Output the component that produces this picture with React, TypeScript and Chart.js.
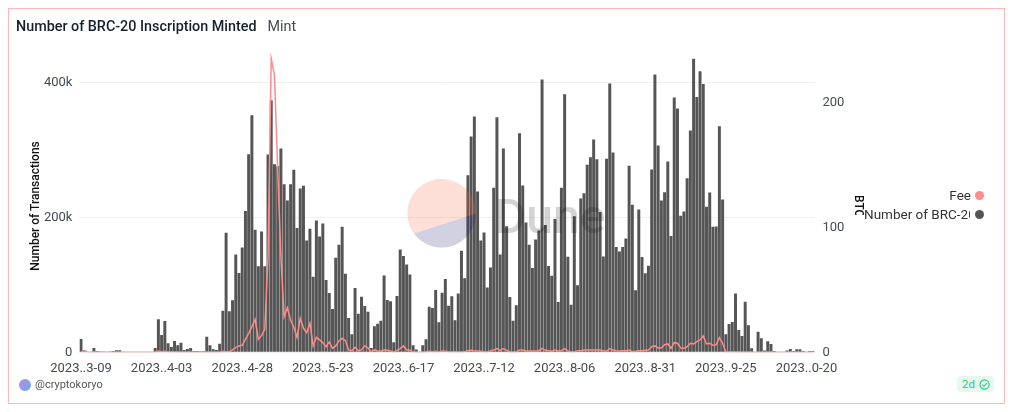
import React, { useEffect, useRef } from "react";
import { Chart, registerables } from "chart.js";

Chart.register(...registerables);

const START_MONTH_DAYS: [number, number][] = [[3, 31], [4, 30], [5, 31], [6, 30], [7, 31], [8, 31], [9, 30], [10, 31]];
const categories: string[] = [];
{
  let first = 9;
  for (const [m, len] of START_MONTH_DAYS) {
    for (let d = first; d <= len && categories.length < 228; d++) {
      categories.push(`2023..${m % 10}-${String(d).padStart(2, "0")}`);
    }
    first = 1;
  }
}

const leftTicks = [0, 200000, 400000];
const rightTicks = [0, 100, 200];

const minted = [
  19800, 3000, 0, 0, 6400, 2000, 500, 300, 0, 300,
  2000, 3000, 3000, 0, 0, 0, 0, 0, 0, 0,
  0, 0, 0, 6400, 48900, 25700, 46400, 13300, 7900, 16800,
  10400, 14300, 3500, 4900, 6400, 2000, 2000, 1500, 1500, 23200,
  10400, 4400, 3500, 12800, 61700, 177300, 60800, 77100, 145200, 117600,
  155600, 209500, 293900, 351700, 181800, 127500, 179300, 127500, 293400, 374000,
  279100, 276100, 302300, 249500, 225300, 249500, 270700, 184300, 243000, 247000,
  166000, 183300, 112100, 195600, 171900, 191200, 107200, 87900, 64200, 140300,
  159600, 186200, 116600, 50900, 26700, 95300, 57300, 82500, 68700, 60300,
  6400, 38500, 42500, 46900, 114100, 77600, 75600, 14800, 83500, 152600,
  142800, 130400, 115600, 10400, 4000, 0, 10400, 19300, 67700, 65700,
  92400, 44500, 88400, 108700, 69200, 83000, 47400, 87400, 150700, 109700,
  262800, 320100, 349800, 238600, 166000, 177800, 96300, 126000, 244000, 348800,
  145200, 302300, 187200, 82000, 46900, 69700, 325100, 247500, 192700, 159600,
  125000, 167500, 180800, 404600, 188700, 127900, 113600, 197600, 74600, 244000,
  382900, 141800, 70600, 202000, 99300, 228200, 236100, 278100, 289500, 315700,
  286500, 208000, 142300, 287000, 398700, 296400, 156100, 149700, 156100, 168900,
  276600, 218800, 91900, 211900, 141300, 117100, 128400, 271200, 412000, 306800,
  225300, 237600, 283100, 172400, 377900, 361600, 202500, 209000, 258400, 329000,
  435700, 378900, 416900, 398200, 215900, 237100, 186200, 186700, 335400, 226700,
  26700, 42000, 45000, 87400, 33100, 24200, 75100, 40000, 5900, 0,
  30600, 20700, 2500, 16300, 12400, 2000, 0, 0, 0, 2500,
  4900, 2000, 4400, 4400, 2000, 0, 2000, 2000,
];

const fee = [
  0.5, 0.8, 0.3, 0.1, 0.1, 0.1, 0.1, 0.1, 0.1, 0.1,
  0.1, 0.1, 0.1, 0.1, 0.1, 0.1, 0.1, 0.1, 0.1, 0.1,
  0.1, 0.1, 0.1, 0.3, 1.1, 0.5, 0.8, 0.3, 0.3, 0.2,
  0.2, 0.1, 0.1, 0.1, 0.1, 0.1, 0.1, 0.1, 0.1, 0.1,
  0.1, 0.1, 0.1, 0.1, 0.8, 0.5, 0.5, 1.9, 4, 5.1,
  5.6, 10.4, 15.2, 20.5, 26.4, 10.4, 13.3, 18.4, 76.5, 235,
  222, 146, 76.5, 28.5, 35.7, 25.9, 20, 12, 27.2, 19.2,
  15.7, 23.2, 5.1, 12, 9.9, 7.7, 4.5, 8.3, 3.2, 5.1,
  9.1, 11.2, 9.3, 1.9, 1.3, 4, 1.3, 1.9, 5.3, 3.5,
  0.5, 1.9, 1.1, 0.8, 1.9, 1.6, 1.1, 0, 1.6, 2.9,
  5.1, 1.9, 1.9, 0.3, 0, 0, 0, 0.5, 0.8, 0.5,
  0.8, 0.3, 1.1, 0.8, 0.5, 0.3, 0.5, 0.3, 0.3, 0.5,
  1.3, 1.6, 1.3, 1.1, 0.8, 0.5, 0.3, 1.1, 1.9, 2.9,
  1.6, 2.9, 1.6, 0.5, 0, 0.1, 1.9, 1.9, 1.1, 1.1,
  1.1, 1.1, 1.3, 3.2, 1.6, 1.3, 0.8, 1.9, 1.1, 1.3,
  2.9, 1.1, 0.3, 0.3, 1.3, 1.3, 1.9, 1.9, 1.9, 1.9,
  1.9, 1.9, 1.3, 0.8, 2.9, 1.9, 1.3, 1.1, 1.3, 1.3,
  1.9, 0.5, 0.8, 1.3, 1.3, 1.6, 1.9, 4.5, 5.1, 3.5,
  3.5, 6.1, 6.7, 3.2, 7.7, 7.2, 3.5, 3.2, 4.5, 7.2,
  6.7, 8.5, 9.9, 13, 6.7, 7.2, 5.6, 5.9, 11.7, 7.2,
  0.3, 0.3, 0.3, 0.2, 0.2, 0.1, 0.1, 0.1, 0.1, 0.1,
  0.1, 0.1, 0.1, 0.1, 0.1, 0.1, 0.1, 0.1, 0.1, 0.1,
  0.1, 0.1, 0.1, 0.1, 0.1, 0.1, 0.1, 0.1,
];

const FONT = "Roboto, 'Open Sans', sans-serif";
const BAR = "#555555";
const LINE = "#ff8b8b";
const TEXT = "#444b53";

export default function App() {
  const ref = useRef<HTMLCanvasElement>(null);
  useEffect(() => {
    const chart = new Chart(ref.current!, {
      type: "bar",
      data: {
        labels: categories,
        datasets: [
          { type: "line", label: "Fee", data: fee, yAxisID: "y1", borderColor: LINE, backgroundColor: LINE, borderWidth: 1.5, pointRadius: 0, tension: 0, order: 0 },
          { type: "bar", label: "Number of BRC-20", data: minted, yAxisID: "y", backgroundColor: BAR, barPercentage: 0.92, categoryPercentage: 1, order: 1 },
        ],
      } as any,
      options: {
        responsive: false,
        animation: false,
        devicePixelRatio: 1,
        layout: { padding: { top: 40, left: 0, right: 0, bottom: 0 } },
        plugins: { legend: { display: false }, tooltip: { enabled: false } },
        scales: {
          x: {
            grid: { display: false, drawTicks: false },
            border: { display: false },
            afterFit: (s: any) => { s.height = 28.7; },
            ticks: {
              autoSkip: false, maxRotation: 0, minRotation: 0, padding: 9,
              color: TEXT, font: { family: FONT, size: 13 },
              callback: (_: any, i: number) => (i % 25 === 0 ? categories[i] : null),
            },
          },
          y: {
            position: "left", min: 0, max: 450000,
            grid: { color: "#f0f0f0", drawTicks: false },
            border: { display: false },
            afterFit: (s: any) => { s.width = 70.4; },
            afterBuildTicks: (s: any) => { s.ticks = leftTicks.map((value) => ({ value })); },
            ticks: {
              padding: 7, color: TEXT,
              font: { family: FONT, size: 13 },
              callback: (v: any) => (v === 0 ? "0" : v / 1000 + "k"),
            },
          },
          y1: {
            position: "right", min: 0, max: 242.6,
            grid: { display: false, drawTicks: false },
            border: { display: false },
            afterFit: (s: any) => { s.width = 54.5; },
            afterBuildTicks: (s: any) => { s.ticks = rightTicks.map((value) => ({ value })); },
            ticks: { padding: 8, color: TEXT, font: { family: FONT, size: 13 } },
          },
        },
      } as any,
    });
    return () => chart.destroy();
  }, []);

  return (
    <div style={{ position: "relative", width: 995, height: 394, border: "1px solid #ffb8b8", fontFamily: FONT, background: "#fff", overflow: "hidden" }}>
      <canvas ref={ref} width={860} height={372} style={{ position: "absolute", left: 0, top: 0, width: 860, height: 372 }} />
      <div style={{ position: "absolute", left: 7, top: 9, fontSize: 14.35, fontWeight: 500, color: "#15202b", whiteSpace: "nowrap" }}>
        Number of BRC-20 Inscription Minted
        <span style={{ fontWeight: 400, marginLeft: 11, color: "#444b53" }}>Mint</span>
      </div>
      <div style={{ position: "absolute", left: 26, top: 196.5, fontSize: 12, fontWeight: 500, color: "#111", lineHeight: "12px", whiteSpace: "nowrap", transform: "translate(-50%,-50%) rotate(-90deg)" }}>Number of Transactions</div>
      <svg width="240" height="80" style={{ position: "absolute", left: 390, top: 170, pointerEvents: "none" }}>
        <path d="M 15 54.5 A 34.3 34.3 0 1 1 77 34.5 Z" fill="#f4603e" opacity="0.2" />
        <path d="M 77 34.5 A 34.3 34.3 0 0 1 15 54.5 Z" fill="#1e1870" opacity="0.2" />
        <text x="96" y="54" fontSize="48" fontWeight="500" fill="#000" opacity="0.17" fontFamily={FONT}>Dune</text>
      </svg>
      <div style={{ position: "absolute", left: 843, top: 186, width: 13, height: 20, overflow: "hidden" }}>
        <div style={{ writingMode: "vertical-rl", fontSize: 12, fontWeight: 500, color: "#111", lineHeight: "13px" }}>BTC</div>
      </div>
      <div style={{ position: "absolute", left: 855, top: 178, width: 107, textAlign: "right", fontSize: 13.5, color: "#333", whiteSpace: "nowrap" }}>Fee</div>
      <div style={{ position: "absolute", left: 855, top: 197, width: 106, fontSize: 13.5, color: "#333", whiteSpace: "nowrap", overflow: "hidden" }}>Number of BRC-20</div>
      <div style={{ position: "absolute", left: 966, top: 182, width: 9, height: 9, borderRadius: 5, background: LINE }} />
      <div style={{ position: "absolute", left: 966, top: 201, width: 9, height: 9, borderRadius: 5, background: BAR }} />
      <div style={{ position: "absolute", left: 10, top: 370, width: 12, height: 12, borderRadius: 6, background: "linear-gradient(135deg,#b490e8,#6aa8f0)" }} />
      <div style={{ position: "absolute", left: 26, top: 369, fontSize: 11, color: "#555" }}>@cryptokoryo</div>
      <div style={{ position: "absolute", left: 948, top: 367, width: 37, height: 16, borderRadius: 4, background: "#e7f8ef", color: "#2fc886", fontSize: 11.5, lineHeight: "16px", paddingLeft: 5, boxSizing: "border-box" }}>
        2d
        <svg width="11" height="11" viewBox="0 0 12 12" style={{ position: "absolute", left: 22, top: 2.5 }}>
          <circle cx="6" cy="6" r="5" fill="none" stroke="#2fc886" strokeWidth="1.2" />
          <path d="M3.6 6.2 L5.4 7.9 L8.4 4.4" fill="none" stroke="#2fc886" strokeWidth="1.2" />
        </svg>
      </div>
    </div>
  );
}
